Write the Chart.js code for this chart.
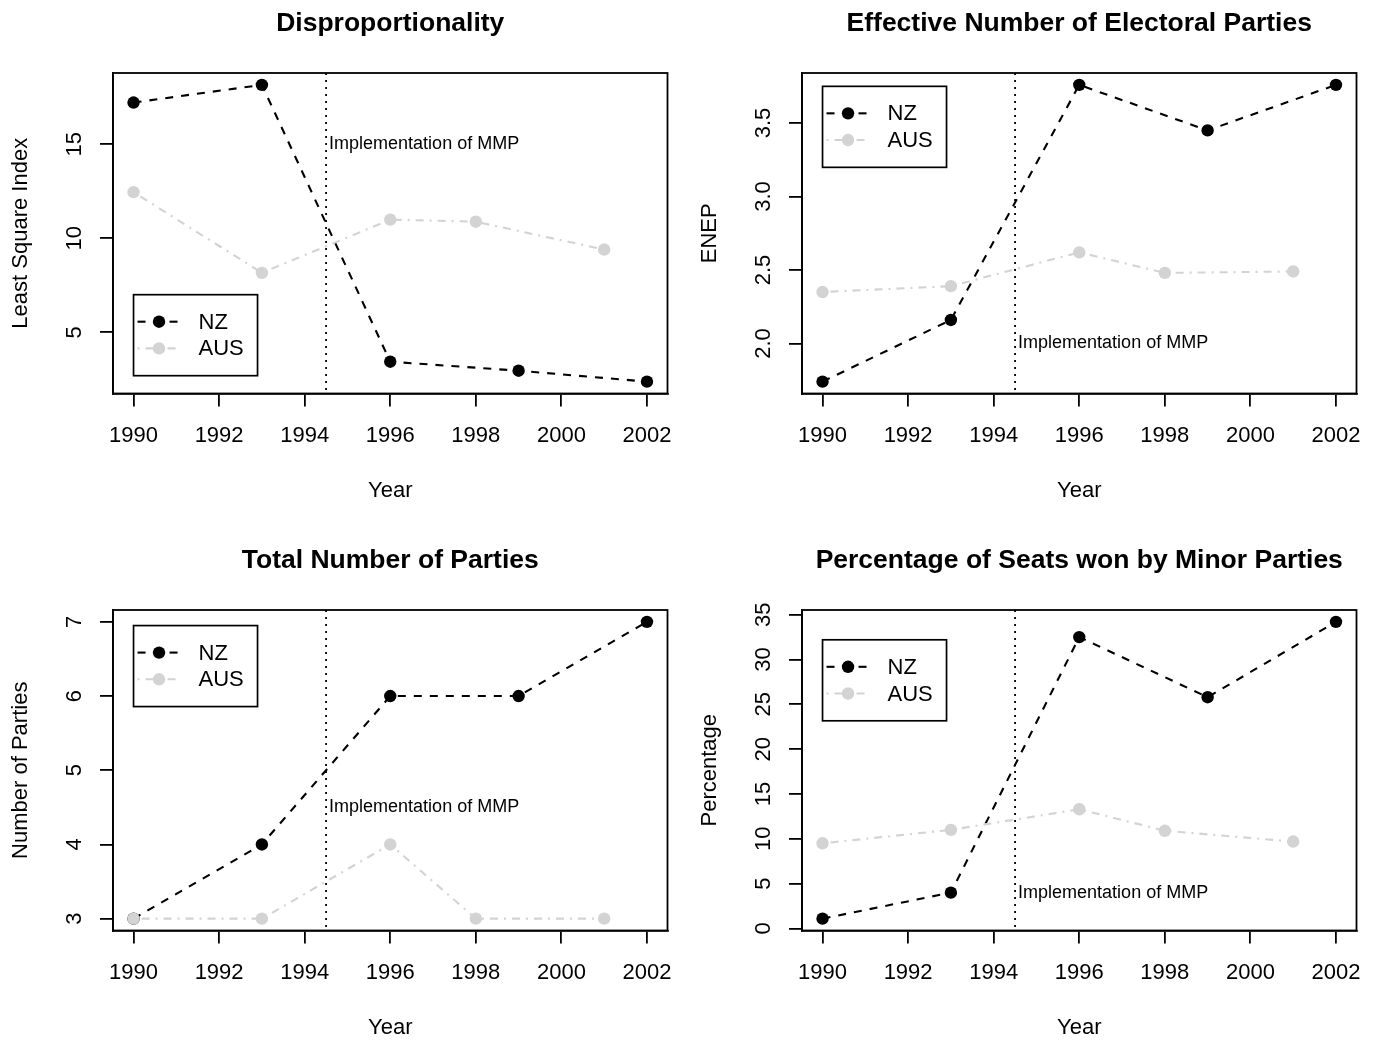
<!DOCTYPE html>
<html>
<head>
<meta charset="utf-8">
<script src="https://cdn.jsdelivr.net/npm/chart.js@4.4.1/dist/chart.umd.min.js"></script>
<style>
html, body { margin: 0; padding: 0; background: #ffffff; width: 1379px; height: 1040px; overflow: hidden; }
canvas { position: absolute; }
</style>
</head>
<body>
<canvas id="c0" width="690" height="520" style="left:0px;top:0px"></canvas>
<canvas id="c1" width="690" height="520" style="left:689px;top:0px"></canvas>
<canvas id="c2" width="690" height="520" style="left:0px;top:537px"></canvas>
<canvas id="c3" width="690" height="520" style="left:689px;top:537px"></canvas>
<script>
// ---------- data ----------
const nzYears  = [1990, 1993, 1996, 1999, 2002];
const ausYears = [1990, 1993, 1996, 1998, 2001];
const yearTicks = [1990, 1992, 1994, 1996, 1998, 2000, 2002];
const seriesNames = ['NZ', 'AUS'];

const nzDisproportionality  = [17.21, 18.15, 3.44, 2.96, 2.38];
const ausDisproportionality = [12.45, 8.16, 10.99, 10.88, 9.40];
const nzEnep  = [1.74, 2.16, 3.76, 3.45, 3.76];
const ausEnep = [2.35, 2.39, 2.62, 2.48, 2.49];
const nzParties  = [3, 4, 6, 6, 7];
const ausParties = [3, 3, 4, 3, 3];
const nzMinorSeats  = [1.1, 4.0, 32.5, 25.8, 34.2];
const ausMinorSeats = [9.5, 11.0, 13.3, 10.9, 9.7];

const disproTicks  = [5, 10, 15];
const enepTicks    = [2.0, 2.5, 3.0, 3.5];
const partiesTicks = [3, 4, 5, 6, 7];
const minorTicks   = [0, 5, 10, 15, 20, 25, 30, 35];
const enepTickLabels = ['2.0', '2.5', '3.0', '3.5'];

const panelTitles = ['Disproportionality', 'Effective Number of Electoral Parties',
                     'Total Number of Parties', 'Percentage of Seats won by Minor Parties'];
const yAxisTitles = ['Least Square Index', 'ENEP', 'Number of Parties', 'Percentage'];
const xAxisTitle = 'Year';
const mmpYear = 1994.5;
const mmpLabel = 'Implementation of MMP';
const mmpLabelLevels = [15, 2.0, 4.5, 4];
const legendX = 1990;
const legendTops = [7, 3.75, 6.95, 32.2];

// ---------- styling ----------
const FONT = "'Liberation Sans', Arial, Helvetica, sans-serif";
const AXIS_LW = 1.8;
const LINE_LW = 2.1;
const POINT_R = 6.2;
const NZ_COLOR = '#000000';
const AUS_COLOR = '#d3d3d3';
const NZ_DASH = [8, 8];
const AUS_DASH = [2, 6, 8, 6];

function rPad(values) {
  const lo = Math.min(...values), hi = Math.max(...values);
  const p = (hi - lo) * 0.04;
  return { min: lo - p, max: hi + p };
}

const panelPlugin = {
  id: 'panelPlugin',
  beforeDatasetsDraw(chart) {
    const { ctx, chartArea: a } = chart;
    ctx.save();
    ctx.strokeStyle = '#000';
    ctx.lineWidth = AXIS_LW;
    ctx.strokeRect(a.left, a.top, a.right - a.left, a.bottom - a.top);
    ctx.restore();
  },
  afterDatasetsDraw(chart) {
    const { ctx, chartArea: a, scales } = chart;
    const cfg = chart.options.plugins.panelPlugin;
    const xs = scales.x, ys = scales.y;
    ctx.save();
    // MMP line
    const xm = xs.getPixelForValue(cfg.mmpYear);
    ctx.strokeStyle = '#000';
    ctx.lineWidth = 1.8;
    ctx.setLineDash([2, 5]);
    ctx.beginPath();
    ctx.moveTo(xm, a.top);
    ctx.lineTo(xm, a.bottom);
    ctx.stroke();
    ctx.setLineDash([]);
    ctx.fillStyle = '#000';
    ctx.font = '18px ' + FONT;
    ctx.textAlign = 'left';
    ctx.textBaseline = 'middle';
    ctx.fillText(cfg.mmpLabel, xm + 3, ys.getPixelForValue(cfg.mmpLevel));

    // legend
    const lx = xs.getPixelForValue(cfg.legendX);
    const ly = ys.getPixelForValue(cfg.legendTop);
    const lw = 124, lh = 81;
    ctx.lineWidth = 1.7;
    ctx.strokeStyle = '#000';
    ctx.fillStyle = '#fff';
    ctx.fillRect(lx, ly, lw, lh);
    ctx.strokeRect(lx, ly, lw, lh);
    chart.data.datasets.forEach((ds) => {
      const idx = ds.legendRow;
      const yy = ly + 27 + 26.7 * idx;
      ctx.strokeStyle = ds.borderColor;
      ctx.lineWidth = ds.borderWidth;
      ctx.setLineDash(ds.borderDash);
      ctx.beginPath();
      ctx.moveTo(lx + 4, yy);
      ctx.lineTo(lx + 46, yy);
      ctx.stroke();
      ctx.setLineDash([]);
      ctx.fillStyle = ds.pointBackgroundColor;
      ctx.beginPath();
      ctx.arc(lx + 25.5, yy, ds.pointRadius, 0, Math.PI * 2);
      ctx.fill();
      ctx.fillStyle = '#000';
      ctx.font = '22px ' + FONT;
      ctx.textAlign = 'left';
      ctx.textBaseline = 'middle';
      ctx.fillText(ds.label, lx + 65, yy + 1);
    });
    ctx.restore();
  },
  afterDraw(chart) {
    const { ctx, chartArea: a, scales } = chart;
    const cfg = chart.options.plugins.panelPlugin;
    ctx.save();
    // title
    ctx.fillStyle = '#000';
    ctx.font = 'bold 26.5px ' + FONT;
    ctx.textAlign = 'center';
    ctx.textBaseline = 'alphabetic';
    ctx.fillText(cfg.title, (a.left + a.right) / 2, 30.5);
    // rotated y tick labels from the y scale
    const ys = scales.y;
    ctx.font = '22px ' + FONT;
    ctx.textBaseline = 'middle';
    ys.ticks.forEach(t => {
      const py = ys.getPixelForValue(t.value);
      ctx.save();
      ctx.translate(a.left - 38, py);
      ctx.rotate(-Math.PI / 2);
      ctx.textAlign = 'center';
      ctx.fillText(t.label, 0, 0);
      ctx.restore();
    });
    ctx.restore();
  }
};

function makePanel(id, idx, nz, aus, yTicks, yLabels) {
  const xr = rPad(nzYears.concat(ausYears));
  const yr = rPad(nz.concat(aus));
  return new Chart(document.getElementById(id), {
    type: 'line',
    data: {
      datasets: [
        {
          label: seriesNames[0], legendRow: 0, order: 1,
          data: nzYears.map((x, i) => ({ x: x, y: nz[i] })),
          borderColor: NZ_COLOR, borderWidth: LINE_LW, borderDash: NZ_DASH,
          pointRadius: POINT_R, pointBorderWidth: 0, pointBackgroundColor: NZ_COLOR,
          pointHoverRadius: POINT_R, tension: 0, fill: false
        },
        {
          label: seriesNames[1], legendRow: 1, order: 0,
          data: ausYears.map((x, i) => ({ x: x, y: aus[i] })),
          borderColor: AUS_COLOR, borderWidth: LINE_LW, borderDash: AUS_DASH,
          pointRadius: POINT_R, pointBorderWidth: 0, pointBackgroundColor: AUS_COLOR,
          pointHoverRadius: POINT_R, tension: 0, fill: false
        }
      ]
    },
    options: {
      responsive: false,
      animation: false,
      events: [],
      layout: { padding: { top: 73, right: 22.5, left: 0, bottom: 0 } },
      plugins: {
        legend: { display: false },
        tooltip: { enabled: false },
        title: { display: false },
        panelPlugin: {
          title: panelTitles[idx], mmpYear: mmpYear, mmpLabel: mmpLabel,
          mmpLevel: mmpLabelLevels[idx], legendX: legendX, legendTop: legendTops[idx]
        }
      },
      scales: {
        x: {
          type: 'linear', position: 'bottom', min: xr.min, max: xr.max,
          afterBuildTicks: s => { s.ticks = yearTicks.map(v => ({ value: v })); },
          afterFit: s => { s.height = 126.5; },
          grid: { drawOnChartArea: false, drawTicks: true, tickLength: 13, color: '#000', lineWidth: AXIS_LW },
          border: { display: true, color: '#000', width: AXIS_LW },
          ticks: { color: '#000', font: { family: FONT, size: 22 }, padding: 16.5, maxRotation: 0, autoSkip: false,
                   callback: v => String(v) },
          title: { display: true, text: xAxisTitle, color: '#000', font: { family: FONT, size: 22 },
                   padding: { top: 0, bottom: 16 } }
        },
        y: {
          type: 'linear', position: 'left', min: yr.min, max: yr.max,
          afterBuildTicks: s => { s.ticks = yTicks.map(v => ({ value: v })); },
          afterFit: s => { s.width = 113; },
          grid: { drawOnChartArea: false, drawTicks: true, tickLength: 13, color: '#000', lineWidth: AXIS_LW },
          border: { display: true, color: '#000', width: AXIS_LW },
          ticks: { display: false, autoSkip: false,
                   callback: (v, i) => (yLabels ? yLabels[i] : String(v)) },
          title: { display: true, text: yAxisTitles[idx], color: '#000', font: { family: FONT, size: 22 },
                   padding: { top: 8, bottom: 0 } }
        }
      }
    },
    plugins: [panelPlugin]
  });
}

makePanel('c0', 0, nzDisproportionality, ausDisproportionality, disproTicks, null);
makePanel('c1', 1, nzEnep, ausEnep, enepTicks, enepTickLabels);
makePanel('c2', 2, nzParties, ausParties, partiesTicks, null);
makePanel('c3', 3, nzMinorSeats, ausMinorSeats, minorTicks, null);
</script>
</body>
</html>
